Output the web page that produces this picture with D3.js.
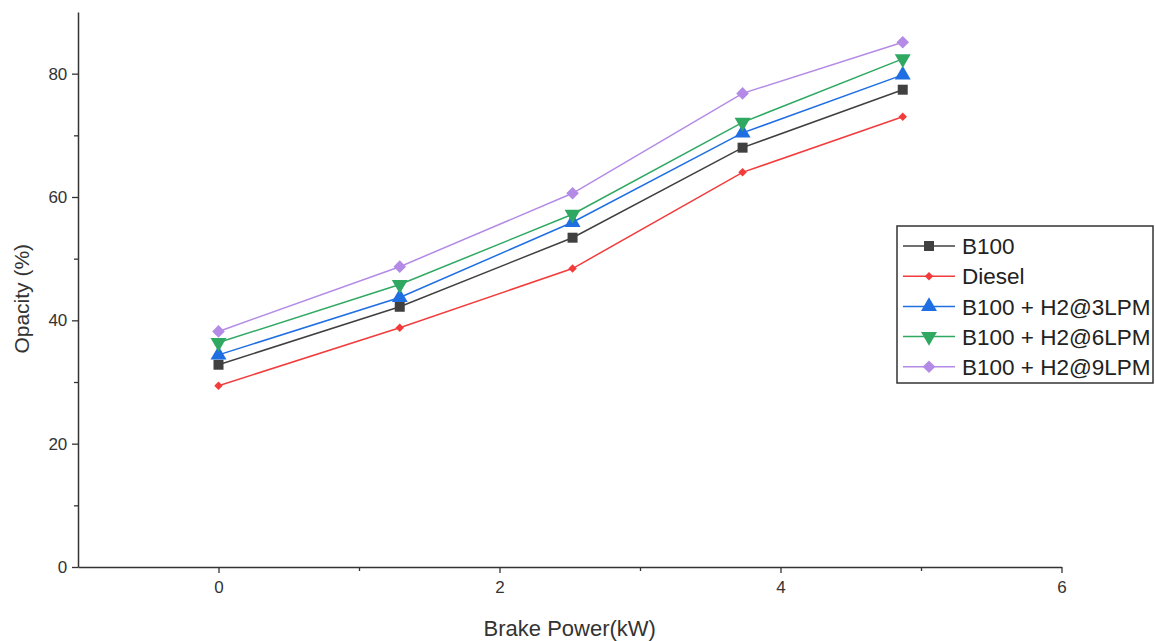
<!DOCTYPE html>
<html>
<head>
<meta charset="utf-8">
<script src="https://cdn.jsdelivr.net/npm/d3@7"></script>
<style>
  body { margin: 0; background: #fff; }
  svg { display: block; font-family: "Liberation Sans", Arial, sans-serif; }
</style>
</head>
<body>
<svg id="chart" width="1155" height="641"></svg>
<script>
// data
var brakePower = [0, 1.29, 2.52, 3.73, 4.87];
var b100     = [32.8, 42.2, 53.4, 68.0, 77.4];
var diesel   = [29.4, 38.8, 48.4, 64.0, 73.0];
var h2at3    = [34.4, 43.7, 55.9, 70.4, 79.8];
var h2at6    = [36.4, 45.8, 57.2, 72.1, 82.4];
var h2at9    = [38.2, 48.7, 60.6, 76.8, 85.1];
var seriesNames = ["B100", "Diesel", "B100 + H2@3LPM", "B100 + H2@6LPM", "B100 + H2@9LPM"];
var xTicks = [0, 2, 4, 6];
var yTicks = [0, 20, 40, 60, 80];

var series = [
  {name: seriesNames[0], values: b100,   color: "#404040", symbol: d3.symbolSquare,   size: 100, rot: 0},
  {name: seriesNames[1], values: diesel, color: "#f23c3c", symbol: d3.symbolSquare,   size: 36,  rot: 45},
  {name: seriesNames[2], values: h2at3,  color: "#1f6fe3", symbol: d3.symbolTriangle, size: 110, rot: 0},
  {name: seriesNames[3], values: h2at6,  color: "#2fa862", symbol: d3.symbolTriangle, size: 110, rot: 180},
  {name: seriesNames[4], values: h2at9,  color: "#b38be6", symbol: d3.symbolSquare,   size: 80,  rot: 45}
];

var svg = d3.select("#chart");

// set the ranges
var x = d3.scaleLinear().domain([-1, 6]).range([78, 1061.5]);
var y = d3.scaleLinear().domain([0, 90]).range([567, 12]);

// axes
var xAxis = svg.append("g")
    .attr("transform", "translate(0," + y(0) + ")")
    .call(d3.axisBottom(x).tickValues(xTicks).tickFormat(d3.format("d")).tickSize(6).tickSizeOuter(0));
svg.append("g")
    .attr("transform", "translate(0," + y(0) + ")")
    .call(d3.axisBottom(x).tickValues([1, 3, 5]).tickFormat("").tickSize(4).tickSizeOuter(0))
    .select(".domain").remove();

var yAxis = svg.append("g")
    .attr("transform", "translate(" + x(-1) + ",0)")
    .call(d3.axisLeft(y).tickValues(yTicks).tickFormat(d3.format("d")).tickSize(6).tickSizeOuter(0));
svg.append("g")
    .attr("transform", "translate(" + x(-1) + ",0)")
    .call(d3.axisLeft(y).tickValues([10, 30, 50, 70]).tickFormat("").tickSize(4).tickSizeOuter(0))
    .select(".domain").remove();

svg.selectAll("g").attr("font-family", null);
svg.selectAll(".domain").attr("stroke", "#333").attr("stroke-width", 1.5);
svg.selectAll(".tick line").attr("stroke", "#333").attr("stroke-width", 1.3);
xAxis.selectAll(".tick text").attr("font-size", 17).attr("fill", "#333").attr("dy", "1.0em");
yAxis.selectAll(".tick text").attr("font-size", 17).attr("fill", "#333").attr("dx", "-0.1em");

// axis titles
svg.append("text")
    .attr("x", (x(-1) + x(6)) / 2 + 0)
    .attr("y", 636)
    .attr("text-anchor", "middle")
    .attr("font-size", 22)
    .attr("fill", "#333")
    .text("Brake Power(kW)");
svg.append("text")
    .attr("transform", "translate(29," + y(43.5) + ") rotate(-90)")
    .attr("text-anchor", "middle")
    .attr("font-size", 21)
    .attr("fill", "#333")
    .text("Opacity (%)");

// lines and markers
var line = d3.line()
    .x(function(d, i) { return x(brakePower[i]); })
    .y(function(d) { return y(d); });

series.forEach(function(s) {
  svg.append("path")
      .datum(s.values)
      .attr("fill", "none")
      .attr("stroke", s.color)
      .attr("stroke-width", 1.5)
      .attr("d", line);
  svg.selectAll(null)
      .data(s.values)
      .enter().append("path")
      .attr("d", d3.symbol().type(s.symbol).size(s.size))
      .attr("fill", s.color)
      .attr("transform", function(d, i) {
        return "translate(" + x(brakePower[i]) + "," + y(d) + ") rotate(" + s.rot + ")";
      });
});

// legend
var legend = svg.append("g");
legend.append("rect")
    .attr("x", 897).attr("y", 226)
    .attr("width", 256).attr("height", 157)
    .attr("fill", "#fff")
    .attr("stroke", "#333")
    .attr("stroke-width", 1.5);

series.forEach(function(s, i) {
  var ly = 246 + i * 30.2;
  legend.append("line")
      .attr("x1", 903).attr("x2", 955)
      .attr("y1", ly).attr("y2", ly)
      .attr("stroke", s.color).attr("stroke-width", 1.5);
  legend.append("path")
      .attr("d", d3.symbol().type(s.symbol).size(s.size))
      .attr("fill", s.color)
      .attr("transform", "translate(929," + ly + ") rotate(" + s.rot + ")");
  legend.append("text")
      .attr("x", 962).attr("y", ly)
      .attr("dy", "0.36em")
      .attr("font-size", 22.5)
      .attr("fill", "#222")
      .text(s.name);
});
</script>
</body>
</html>
